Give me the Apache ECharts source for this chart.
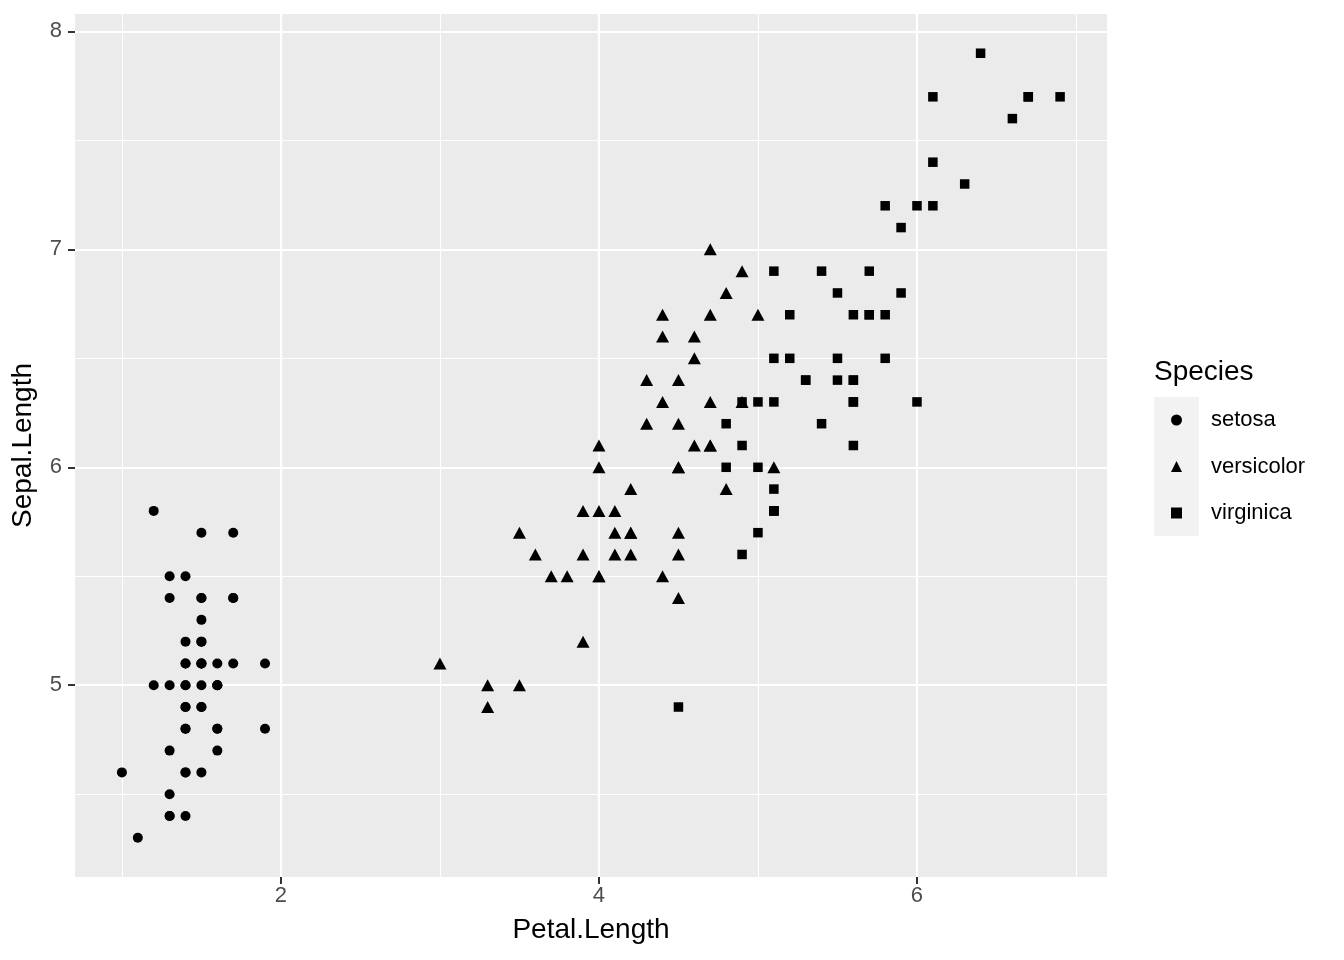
<!DOCTYPE html>
<html>
<head>
<meta charset="utf-8">
<script src="https://cdn.jsdelivr.net/npm/echarts@6/dist/echarts.min.js"></script>
<style>
  html, body { margin: 0; padding: 0; background: #fff; }
  #chart { width: 1344px; height: 960px; }
</style>
</head>
<body>
<div id="chart"></div>
<script>
// iris: Petal.Length (x) vs Sepal.Length (y)
const setosaPetal = [1.4,1.4,1.3,1.5,1.4,1.7,1.4,1.5,1.4,1.5,1.5,1.6,1.4,1.1,1.2,1.5,1.3,1.4,1.7,1.5,
  1.7,1.5,1.0,1.7,1.9,1.6,1.6,1.5,1.4,1.6,1.6,1.5,1.5,1.4,1.5,1.2,1.3,1.4,1.3,1.5,
  1.3,1.3,1.3,1.6,1.9,1.4,1.6,1.4,1.5,1.4]
const setosaSepal = [5.1,4.9,4.7,4.6,5.0,5.4,4.6,5.0,4.4,4.9,5.4,4.8,4.8,4.3,5.8,5.7,5.4,5.1,5.7,5.1,
  5.4,5.1,4.6,5.1,4.8,5.0,5.0,5.2,5.2,4.7,4.8,5.4,5.2,5.5,4.9,5.0,5.5,4.9,4.4,5.1,
  5.0,4.5,4.4,5.0,5.1,4.8,5.1,4.6,5.3,5.0]
const versicolorPetal = [4.7,4.5,4.9,4.0,4.6,4.5,4.7,3.3,4.6,3.9,3.5,4.2,4.0,4.7,3.6,4.4,4.5,4.1,4.5,3.9,
  4.8,4.0,4.9,4.7,4.3,4.4,4.8,5.0,4.5,3.5,3.8,3.7,3.9,5.1,4.5,4.5,4.7,4.4,4.1,4.0,
  4.4,4.6,4.0,3.3,4.2,4.2,4.2,4.3,3.0,4.1]
const versicolorSepal = [7.0,6.4,6.9,5.5,6.5,5.7,6.3,4.9,6.6,5.2,5.0,5.9,6.0,6.1,5.6,6.7,5.6,5.8,6.2,5.6,
  5.9,6.1,6.3,6.1,6.4,6.6,6.8,6.7,6.0,5.7,5.5,5.5,5.8,6.0,5.4,6.0,6.7,6.3,5.6,5.5,
  5.5,6.1,5.8,5.0,5.6,5.7,5.7,6.2,5.1,5.7]
const virginicaPetal = [6.0,5.1,5.9,5.6,5.8,6.6,4.5,6.3,5.8,6.1,5.1,5.3,5.5,5.0,5.1,5.3,5.5,6.7,6.9,5.0,
  5.7,4.9,6.7,4.9,5.7,6.0,4.8,4.9,5.6,5.8,6.1,6.4,5.6,5.1,5.6,6.1,5.6,5.5,4.8,5.4,
  5.6,5.1,5.1,5.9,5.7,5.2,5.0,5.2,5.4,5.1]
const virginicaSepal = [6.3,5.8,7.1,6.3,6.5,7.6,4.9,7.3,6.7,7.2,6.5,6.4,6.8,5.7,5.8,6.4,6.5,7.7,7.7,6.0,
  6.9,5.6,7.7,6.3,6.7,7.2,6.2,6.1,6.4,7.2,7.4,7.9,6.4,6.3,6.1,7.7,6.3,6.4,6.0,6.9,
  6.7,6.9,5.8,6.8,6.7,6.7,6.3,6.5,6.2,5.9]

const xTicks = [2, 4, 6]
const xMinor = [1, 3, 5, 7]
const yTicks = [5, 6, 7, 8]
const yMinor = [4.5, 5.5, 6.5, 7.5]

const font = 'Liberation Sans, Arial, Helvetica, sans-serif'
const pairs = (xs, ys) => xs.map((v, i) => [v, ys[i]])

const chart = echarts.init(document.getElementById('chart'), null, { renderer: 'canvas' })

const baseAxis = {
  type: 'value',
  axisLine: { show: false },
  axisTick: { show: false },
  axisLabel: { show: false },
  splitLine: { show: true, lineStyle: { color: '#ffffff', width: 1.1 } }
}

chart.setOption({
  animation: false,
  backgroundColor: '#ffffff',
  textStyle: { fontFamily: font },
  title: [{
    text: 'Species',
    left: 1154,
    top: 358,
    padding: 0,
    textStyle: { fontFamily: font, fontSize: 28, fontWeight: 'normal', color: '#000' }
  }],
  graphic: [{
    // grey95 legend key background
    type: 'rect',
    left: 1154,
    top: 397,
    shape: { width: 45, height: 139 },
    style: { fill: '#f2f2f2' },
    z: 0
  }],
  legend: {
    orient: 'vertical',
    left: 1171,
    top: 409,
    padding: 0,
    itemWidth: 11,
    itemHeight: 11,
    itemGap: 24.5,
    textStyle: { fontFamily: font, fontSize: 22, color: '#000', lineHeight: 22, padding: [0, 0, 0, 24] },
    data: ['setosa', 'versicolor', 'virginica'],
    z: 5
  },
  grid: {
    left: 75,
    top: 14,
    width: 1032,
    height: 863,
    show: true,
    backgroundColor: '#ebebeb',
    borderWidth: 0
  },
  xAxis: [{
    ...baseAxis,
    min: 0.705,
    max: 7.195,
    name: 'Petal.Length',
    nameLocation: 'middle',
    nameGap: 39,
    nameTextStyle: { fontFamily: font, fontSize: 28, color: '#000' },
    axisTick: { show: true, length: 7, customValues: xTicks, lineStyle: { color: '#333333', width: 2 } },
    axisLabel: { show: true, customValues: xTicks, margin: 8, fontFamily: font, fontSize: 22, color: '#4d4d4d' },
    splitLine: { show: true, lineStyle: { color: '#ffffff', width: 2.2 } },
    z: 3
  }, {
    ...baseAxis,
    min: 0.705,
    max: 7.195,
    position: 'bottom',
    axisTick: { show: false, customValues: xMinor },
    axisLabel: { show: false, customValues: xMinor }
  }],
  yAxis: [{
    ...baseAxis,
    min: 4.12,
    max: 8.08,
    name: 'Sepal.Length',
    nameLocation: 'middle',
    nameGap: 38,
    nameTextStyle: { fontFamily: font, fontSize: 28, color: '#000' },
    axisTick: { show: true, length: 7, customValues: yTicks, lineStyle: { color: '#333333', width: 2 } },
    axisLabel: { show: true, customValues: yTicks, margin: 13, fontFamily: font, fontSize: 22, color: '#4d4d4d' },
    splitLine: { show: true, lineStyle: { color: '#ffffff', width: 2.2 } },
    z: 3
  }, {
    ...baseAxis,
    min: 4.12,
    max: 8.08,
    position: 'left',
    axisTick: { show: false, customValues: yMinor },
    axisLabel: { show: false, customValues: yMinor }
  }],
  series: [{
    name: 'setosa',
    type: 'scatter',
    symbol: 'circle',
    symbolSize: 10,
    itemStyle: { color: '#000000', opacity: 1 },
    data: pairs(setosaPetal, setosaSepal),
    z: 10
  }, {
    name: 'versicolor',
    type: 'scatter',
    symbol: 'triangle',
    symbolSize: [13, 12],
    itemStyle: { color: '#000000', opacity: 1 },
    data: pairs(versicolorPetal, versicolorSepal),
    z: 10
  }, {
    name: 'virginica',
    type: 'scatter',
    symbol: 'rect',
    symbolSize: 9.5,
    itemStyle: { color: '#000000', opacity: 1 },
    data: pairs(virginicaPetal, virginicaSepal),
    z: 10
  }]
})
</script>
</body>
</html>
